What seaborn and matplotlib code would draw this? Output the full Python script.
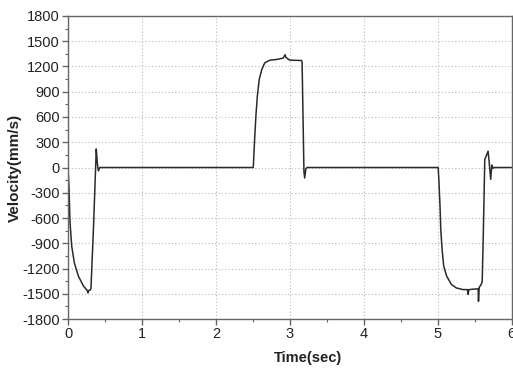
import matplotlib
matplotlib.use("Agg")
import matplotlib.pyplot as plt
from matplotlib.ticker import MultipleLocator
import seaborn as sns
import pandas as pd

sns.set_theme(style="ticks")
plt.rcParams["font.family"] = ["Liberation Sans", "DejaVu Sans"]
plt.rcParams["axes.unicode_minus"] = False

# krivulja hitrosti, odčitana s slike
time_s = [0.00, 0.005, 0.014, 0.027, 0.05, 0.085, 0.14, 0.21, 0.26, 0.27, 0.28, 0.30, 0.31,
          0.345, 0.382, 0.395, 0.41, 0.43,
          2.505, 2.523, 2.54, 2.56, 2.585, 2.62, 2.66, 2.73, 2.82, 2.91, 2.935, 2.945, 2.98,
          3.0, 3.158, 3.165, 3.19, 3.20, 3.215, 3.23,
          5.005, 5.014, 5.03, 5.04, 5.058, 5.08, 5.12, 5.185, 5.25, 5.34, 5.40, 5.41, 5.42,
          5.53, 5.545, 5.55, 5.56, 5.58, 5.60, 5.615, 5.635, 5.66, 5.68, 5.695, 5.715, 5.73,
          5.745, 5.76, 6.0]
velocity = [0, -100, -260, -650, -935, -1130, -1290, -1410, -1460, -1490, -1460, -1455, -1440,
            -700, 220, 60, -40, 0,
            0, 333, 610, 847, 1045, 1164, 1243, 1275, 1283, 1300, 1340, 1310, 1285,
            1275, 1271, 1250, -50, -125, -20, 0,
            0, -143, -460, -737, -974, -1172, -1291, -1390, -1430, -1450, -1450, -1508, -1450,
            -1441, -1445, -1590, -1420, -1400, -1360, -800, 95, 150, 194, 60, -140, 30,
            -10, 0, 0]

df = pd.DataFrame({"t": time_s, "v": velocity})

fig = plt.figure(figsize=(5.13, 3.71), dpi=100)
ax = fig.add_axes([0.1326, 0.140, 0.865, 0.817])

sns.lineplot(data=df, x="t", y="v", sort=False, estimator=None,
             color="#2b2b2b", linewidth=1.1, ax=ax)

ax.set_xlim(0, 6)
ax.set_ylim(-1800, 1800)
ax.xaxis.set_major_locator(MultipleLocator(1))
ax.xaxis.set_minor_locator(MultipleLocator(0.5))
ax.yaxis.set_major_locator(MultipleLocator(300))
ax.yaxis.set_minor_locator(MultipleLocator(150))

ax.grid(True, which="major", linestyle=(0, (1, 2)), color="#b8b8b8", linewidth=0.8)
for s in ax.spines.values():
    s.set_color("#666666")
    s.set_linewidth(1.0)
    s.set_visible(True)

ax.tick_params(which="major", direction="out", length=4, width=1, color="#666666",
               labelsize=10.5, labelcolor="#222222", pad=2)
ax.tick_params(which="minor", direction="out", length=2, width=0.8, color="#666666")

ax.set_xlabel("Time(sec)", fontsize=10.5, fontweight="bold", color="#222222")
ax.set_ylabel("Velocity(mm/s)", fontsize=11, fontweight="bold", color="#222222")
ax.xaxis.set_label_coords(0.54, -0.105)
ax.yaxis.set_label_coords(-0.105, 0.5)

plt.savefig("out.png", dpi=100)
plt.close()
